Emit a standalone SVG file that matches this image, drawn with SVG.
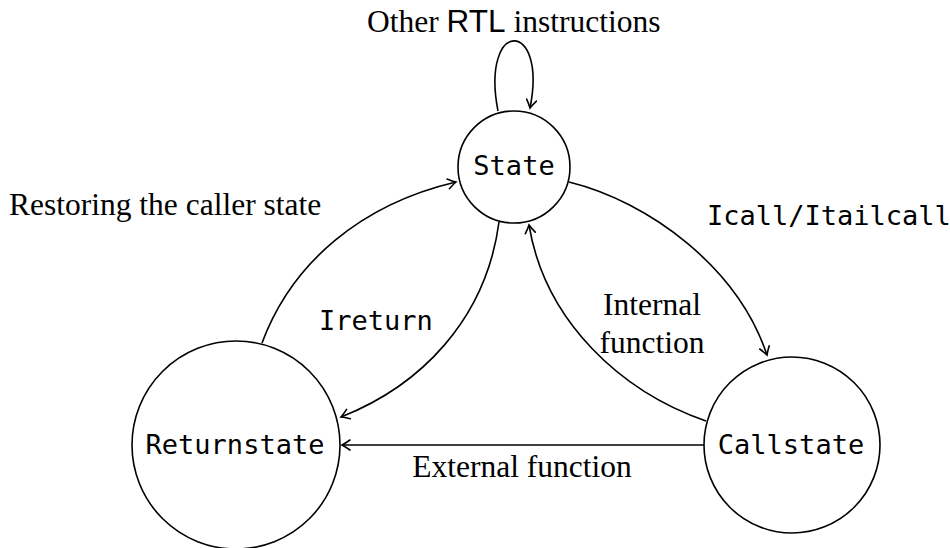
<svg xmlns="http://www.w3.org/2000/svg" width="950" height="548" viewBox="0 0 950 548">
<style>
.node{fill:#fff;stroke:#000;stroke-width:1.6}
.mono{font-family:"DejaVu Sans Mono",monospace;font-size:27px;fill:#000}
.serif{font-family:"Liberation Serif","Times New Roman",serif;font-size:31.5px;fill:#000}
.sans{font-family:"Liberation Sans",Arial,sans-serif}
.edge{fill:none;stroke:#000;stroke-width:1.6;marker-end:url(#arr)}
</style>
<defs>
<marker id="arr" viewBox="-10 -6 12 12" markerWidth="12" markerHeight="12" refX="0" refY="0" orient="auto" markerUnits="userSpaceOnUse">
<path d="M -8 -5 Q -3 -1.5 0 0 Q -3 1.5 -8 5" fill="none" stroke="#000" stroke-width="1.6" stroke-linecap="round"/>
</marker>
</defs>
<rect width="950" height="548" fill="#fff"/>
<g id="connectors">
<path class="edge" d="M 498 111 C 480 18, 548 18, 530 108"/>
<path class="edge" d="M 262 343 C 292 262, 362 204, 456 182"/>
<path class="edge" d="M 569 182 C 650 202, 738 268, 767 355"/>
<path class="edge" d="M 499 222 C 486 320, 420 386, 341 417"/>
<path class="edge" d="M 706 421 C 622 392, 545 322, 529 225"/>
<path class="edge" d="M 704 445 L 342 445"/>
</g>
<g id="state">
<circle class="node" cx="514" cy="167" r="56"/>
<text class="mono" x="514" y="175" text-anchor="middle">State</text>
</g>
<g id="returnstate">
<circle class="node" cx="236" cy="445" r="104"/>
<text class="mono" x="235" y="454" text-anchor="middle">Returnstate</text>
</g>
<g id="callstate">
<circle class="node" cx="792" cy="445" r="88"/>
<text class="mono" x="791" y="454" text-anchor="middle">Callstate</text>
</g>
<g id="labels">
<text class="serif" x="367" y="32">Other <tspan class="sans">RTL</tspan> instructions</text>
<text class="serif" x="9" y="215">Restoring the caller state</text>
<text class="mono" x="707" y="225">Icall/Itailcall</text>
<text class="mono" x="319" y="330">Ireturn</text>
<text class="serif" x="652" y="315" text-anchor="middle">Internal</text>
<text class="serif" x="652" y="353" text-anchor="middle">function</text>
<text class="serif" x="522" y="477" text-anchor="middle">External function</text>
</g>
</svg>
